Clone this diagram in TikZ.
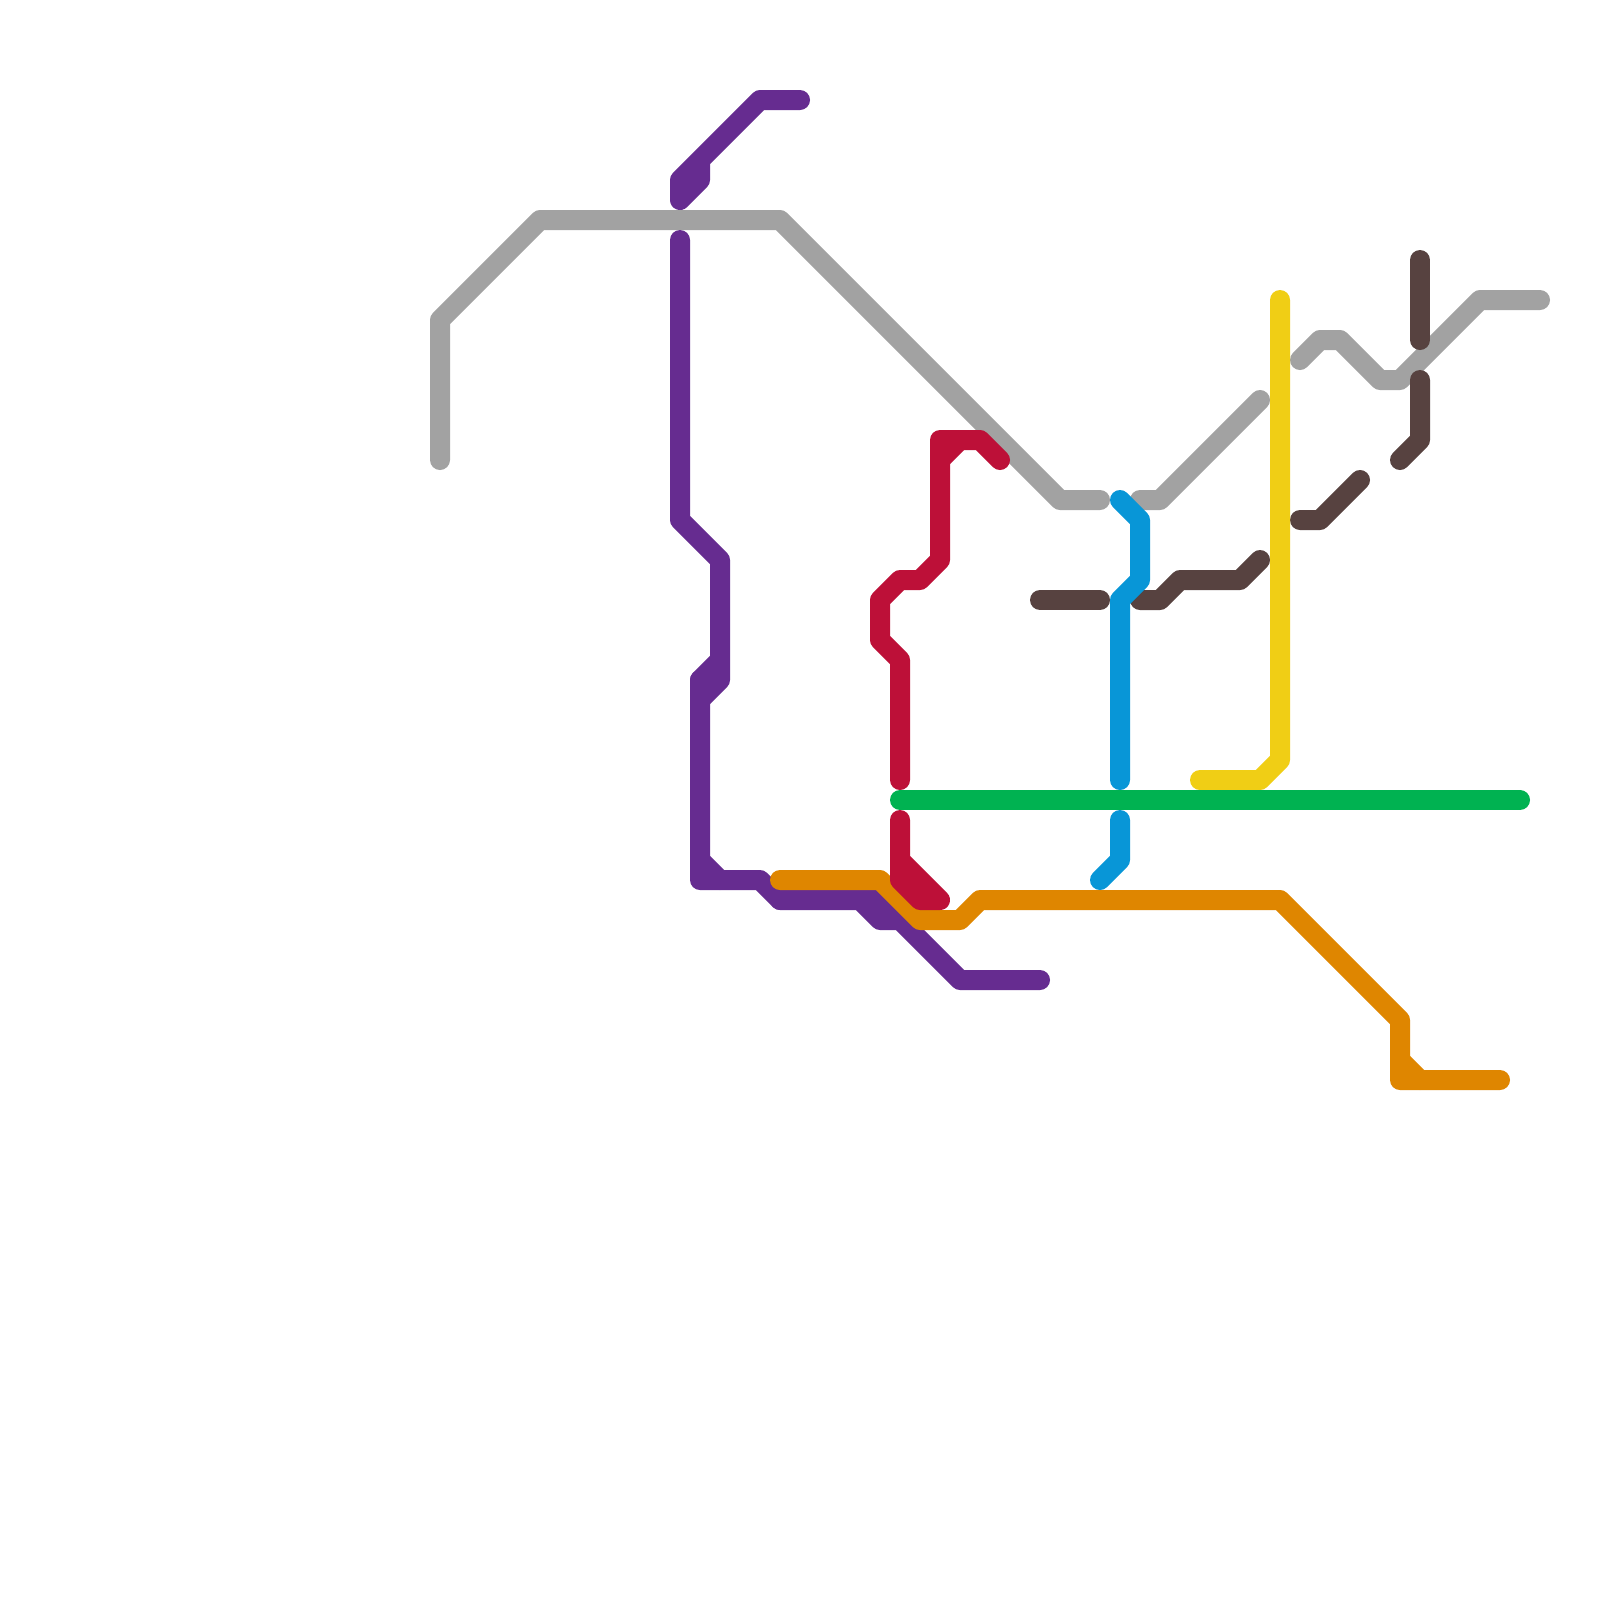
\documentclass[tikz,border=0pt]{standalone}
\usepackage{xcolor}
\usepackage{tikz}
\definecolor{linegray}{HTML}{A2A2A2}
\definecolor{linepurple}{HTML}{662C90}
\definecolor{lineorange}{HTML}{DF8600}
\definecolor{linered}{HTML}{BD1038}
\definecolor{linebrown}{HTML}{574240}
\definecolor{lineblue}{HTML}{0896D7}
\definecolor{lineyellow}{HTML}{F0CE15}
\definecolor{linegreen}{HTML}{00B251}
\tikzset{metro/.style={line width=0.5cm, line cap=round, line join=round}}

\begin{document}
\begin{tikzpicture}[x=0.5cm, y=-0.5cm]
  \useasboundingbox (0,0) rectangle (80,80);
  \fill[white] (0,0) rectangle (80,80);
  \draw[metro, linegray] (22,23) -- (22,16) -- (27,11) -- (39,11) -- (53,25) -- (55,25);
  \draw[metro, linegray] (57,25) -- (58,25) -- (63,20);
  \draw[metro, linegray] (65,18) -- (66,17) -- (67,17) -- (69,19) -- (70,19) -- (74,15) -- (77,15);
  \draw[metro, linepurple] (40,5) -- (38,5) -- (34,9) -- (34,10) -- (35,9) -- (35,8);
  \draw[metro, linepurple] (34,12) -- (34,26) -- (36,28) -- (36,34) -- (35,35) -- (35,34) -- (36,33);
  \draw[metro, linepurple] (35,34) -- (35,44) -- (38,44) -- (39,45) -- (43,45) -- (44,46) -- (45,46) -- (44,45) -- (48,49) -- (52,49);
  \draw[metro, linepurple] (35,43) -- (36,44);
  \draw[metro, linepurple] (39,45) -- (44,45);
  \draw[metro, lineorange] (39,44) -- (44,44) -- (46,46) -- (48,46) -- (49,45) -- (64,45) -- (70,51) -- (70,54) -- (75,54);
  \draw[metro, lineorange] (70,53) -- (71,54);
  \draw[metro, linered] (50,23) -- (49,22) -- (47,22) -- (47,28) -- (46,29) -- (45,29) -- (44,30) -- (44,32) -- (45,33) -- (45,39);
  \draw[metro, linered] (47,23) -- (48,22);
  \draw[metro, linered] (45,41) -- (45,44) -- (46,45) -- (47,45) -- (45,43);
  \draw[metro, linebrown] (71,13) -- (71,17);
  \draw[metro, linebrown] (71,19) -- (71,22) -- (70,23);
  \draw[metro, linebrown] (68,24) -- (66,26) -- (65,26);
  \draw[metro, linebrown] (52,30) -- (55,30);
  \draw[metro, linebrown] (57,30) -- (58,30) -- (59,29) -- (62,29) -- (63,28);
  \draw[metro, lineblue] (56,25) -- (57,26) -- (57,29) -- (56,30) -- (56,39);
  \draw[metro, lineblue] (56,41) -- (56,43) -- (55,44);
  \draw[metro, lineyellow] (64,15) -- (64,38) -- (63,39) -- (60,39);
  \draw[metro, linegreen] (45,40) -- (76,40);
\end{tikzpicture}
\end{document}
